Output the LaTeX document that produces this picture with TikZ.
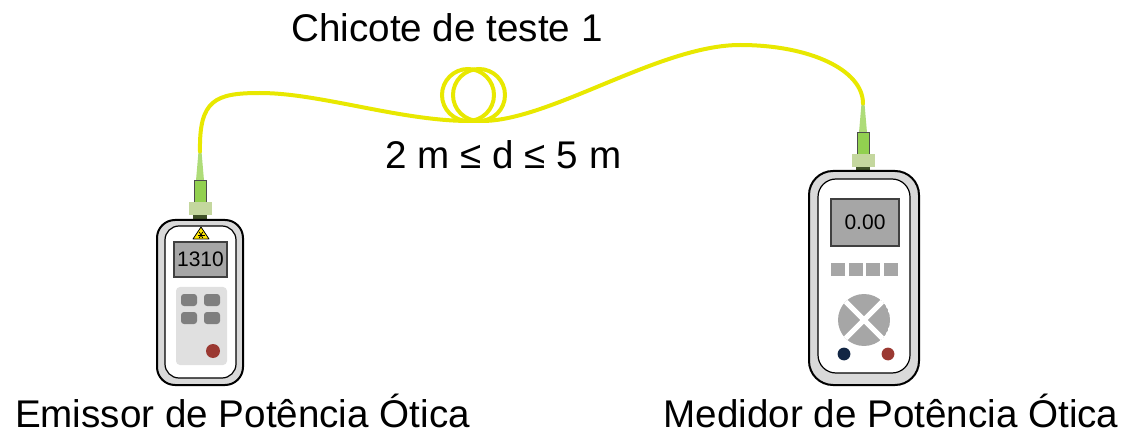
\documentclass[tikz,border=0pt]{standalone}
\usepackage{fontspec}
\setmainfont{Liberation Sans}
\definecolor{fibre}{RGB}{232,232,0}
\definecolor{boot}{RGB}{160,214,96}
\definecolor{plug}{RGB}{146,208,80}
\definecolor{sleeve}{RGB}{196,215,158}
\definecolor{plugbase}{RGB}{64,82,40}
\definecolor{casing}{RGB}{217,217,217}
\definecolor{lcd}{RGB}{166,166,166}
\definecolor{keypad}{RGB}{224,224,224}
\definecolor{keygrey}{RGB}{127,127,127}
\definecolor{ledred}{RGB}{155,57,50}
\definecolor{lednavy}{RGB}{18,38,68}
\definecolor{warnyellow}{RGB}{255,230,0}
\tikzset{
  fibre/.style={draw=fibre,line width=2pt,line cap=round},
  casing/.style={draw=black,fill=casing,line width=1pt,rounded corners=#1},
  face/.style={draw=black,fill=white,line width=0.6pt,rounded corners=#1},
  screen/.style={draw=black!75,fill=lcd,line width=0.6pt,inner sep=0pt,
    font=\fontsize{10.5}{12}\selectfont},
  key/.style={fill=keygrey,rounded corners=1.5pt},
  caption/.style={anchor=base,inner sep=0pt,font=\fontsize{19.3}{23}\selectfont},
  % FC plug sitting on top of a meter, origin at the casing
  plug/.pic={
    \fill[boot!85] (-1.5,-67.5) -- (1.5,-67.5) -- (4,-38.5) -- (-4,-38.5) -- cycle;
    \draw[draw=black!70,fill=plug,line width=0.5pt] (-6,-38.5) rectangle (6,-16.5);
    \fill[sleeve] (-11.5,-16.5) rectangle (11.5,-4);
    \fill[plugbase] (-7,-4) rectangle (7,0);
    \coordinate (-tip) at (0,-67.5);
  },
}

\begin{document}
\begin{tikzpicture}[x=0.5pt,y=-0.5pt]
  \useasboundingbox (0,0) rectangle (1126,444);

  % plugs
  \pic (tx) at (200,219) {plug};
  \pic (rx) at (863,171) {plug};

  % test lead with its coil
  \draw[fibre] (tx-tip) .. controls (199,100) and (215,93) .. (260,93)
    .. controls (320,93) and (400,121) .. (470,121) -- (482,121)
    .. controls (550,121) and (660,45) .. (740,45)
    .. controls (810,45) and (863,70) .. (rx-tip);
  \draw[fibre] (468,95) circle[radius=13pt];
  \draw[fibre] (479,95) circle[radius=13pt];

  % light source
  \draw[casing=9pt] (157,220) rectangle (243,385);
  \draw[face=7pt] (165,226) rectangle (236,378);
  \draw[fill=warnyellow,line width=0.4pt,line join=round] (193,239) -- (209,239) -- (201,227) -- cycle;
  \foreach \a in {0,60,120}
    \draw[line width=0.4pt] (201,235) ++(\a:3.5) -- ++(\a+180:7);
  \node[screen,minimum width=26.5pt,minimum height=17.5pt] (txlcd) at (200.5,259.5) {1310};
  \fill[keypad,rounded corners=2pt] (176,287) rectangle (227,365);
  \foreach \x in {181,204}
    \foreach \y in {294,312}
      \fill[key] (\x,\y) rectangle ++(16,12);
  \fill[ledred] (213,351) circle[radius=3.5pt];

  % power meter
  \draw[casing=12pt] (809,171) rectangle (919,385);
  \draw[face=9pt] (818,179) rectangle (910,373);
  \node[screen,minimum width=34pt,minimum height=23.5pt] (rxlcd) at (865,222.5) {0.00};
  \foreach \x in {831,848.5,866,883.5}
    \fill[lcd] (\x,263) rectangle ++(14,13);
  \begin{scope}
    \clip (864,320) circle[radius=13pt];
    \fill[lcd] (864,320) circle[radius=13pt];
    \draw[white,line width=2.5pt] (838,294) -- (890,346) (890,294) -- (838,346);
  \end{scope}
  \fill[lednavy] (844,354) circle[radius=3.2pt];
  \fill[ledred] (888,354) circle[radius=3.2pt];

  % captions
  \node[caption] (chicote) at (447,42) {Chicote de teste 1};
  \node[caption] (dist) at (503.5,169) {2 m ≤ d ≤ 5 m};
  \node[caption] (emissor) at (242.5,427) {Emissor de Potência Ótica};
  \node[caption] (medidor) at (891,427) {Medidor de Potência Ótica};
\end{tikzpicture}
\end{document}
